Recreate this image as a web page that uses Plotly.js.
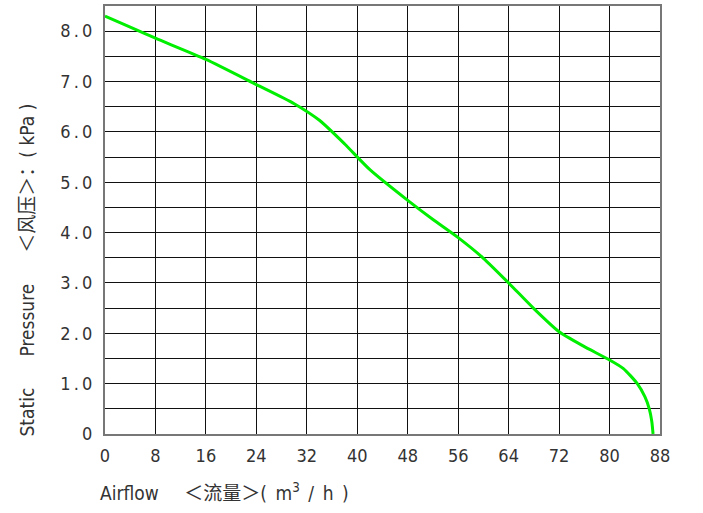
<!DOCTYPE html>
<html>
<head>
<meta charset="utf-8">
<script src="https://cdn.plot.ly/plotly-3.0.1.min.js"></script>
<style>html,body{margin:0;padding:0;background:#fff;}#chart{width:703px;height:513px;}</style>
</head>
<body>
<div id="chart"></div>
<script>
// Airflow (m3/h) and static pressure (kPa)
const airflow  = [0, 4, 8, 16, 24, 30, 34, 38, 42, 48, 52, 56, 60, 64, 68, 72, 75.8, 80, 82.2, 84.4, 85.6, 86.3, 86.7, 86.9];
const pressure = [8.30, 8.08, 7.86, 7.44, 6.94, 6.56, 6.23, 5.76, 5.25, 4.64, 4.26, 3.90, 3.49, 3.00, 2.49, 2.03, 1.75, 1.47, 1.30, 1.00, 0.74, 0.50, 0.25, 0];

const xTickVals = [0, 8, 16, 24, 32, 40, 48, 56, 64, 72, 80, 88];
const xTickText = ["0", "8", "16", "24", "32", "40", "48", "56", "64", "72", "80", "88"];
const yTickVals = [0, 1, 2, 3, 4, 5, 6, 7, 8];
const yTickText = ["0", "1\u2009.\u20090", "2\u2009.\u20090", "3\u2009.\u20090", "4\u2009.\u20090", "5\u2009.\u20090", "6\u2009.\u20090", "7\u2009.\u20090", "8\u2009.\u20090"];

const xTitle = "Airflow\u2003\u2002＜流量＞(\u2002m<sup>3</sup>\u2002/\u2002h\u2002)";
const yTitle = "Static\u2003\u2002 Pressure\u2003\u2002 ＜风压＞：( kPa )";

const tickFont = {family: '"DejaVu Sans Condensed", "Liberation Sans Narrow", sans-serif', size: 18, color: '#333'};
const titleFont = {family: '"DejaVu Sans Condensed", "Noto Sans CJK SC", sans-serif', size: 19, color: '#333'};

const trace = {
  x: airflow, y: pressure, type: 'scatter', mode: 'lines',
  line: {color: '#00ee00', width: 3, shape: 'spline', smoothing: 0.6},
  hoverinfo: 'skip'
};

const layout = {
  width: 703, height: 513,
  margin: {l: 105, r: 43, t: 6, b: 79},
  paper_bgcolor: '#fff', plot_bgcolor: '#fff',
  showlegend: false,
  xaxis: {
    range: [0, 88], tickvals: xTickVals, ticktext: xTickText,
    showgrid: true, gridcolor: '#111', gridwidth: 1,
    showline: true, linecolor: '#777', linewidth: 2, mirror: true,
    zeroline: false, ticks: '', ticklabelstandoff: 4,
    tickfont: tickFont
  },
  yaxis: {
    range: [0, 8.5], tickvals: yTickVals, ticktext: yTickText,
    showgrid: true, gridcolor: '#111', gridwidth: 1,
    showline: true, linecolor: '#777', linewidth: 2, mirror: true,
    zeroline: false, ticks: '', ticklabelstandoff: 7,
    minor: {dtick: 0.5, showgrid: true, gridcolor: '#111', gridwidth: 1, ticks: ''},
    tickfont: tickFont
  },
  annotations: [
    {text: xTitle, xref: 'paper', yref: 'paper', x: -0.013, y: -0.1355, xanchor: 'left', yanchor: 'middle',
     showarrow: false, font: titleFont},
    {text: yTitle, xref: 'paper', yref: 'paper', x: -0.141, y: -0.01, xanchor: 'center', yanchor: 'bottom',
     textangle: -90, showarrow: false, font: titleFont}
  ]
};

Plotly.newPlot('chart', [trace], layout, {displayModeBar: false, staticPlot: true});
</script>
</body>
</html>
